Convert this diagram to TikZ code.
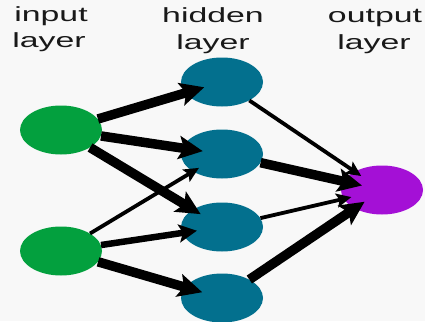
\documentclass[tikz,border=0pt]{standalone}
\usepackage{fontspec}
\usepackage{graphicx}
\setmainfont{Liberation Sans}
\usetikzlibrary{shapes.geometric,arrows.meta}
\definecolor{ingreen}{RGB}{3,160,62}
\definecolor{hidteal}{RGB}{3,112,142}
\definecolor{outpurple}{RGB}{164,16,214}
\definecolor{bgpaper}{RGB}{248,248,248}
\newcommand{\stretchtxt}[1]{\scalebox{1.65}[1]{#1}}
\tikzset{
  neuron/.style={ellipse, minimum width=82pt, minimum height=49pt, inner sep=0pt, draw=none},
  lbl/.style={font=\fontsize{20.5pt}{24pt}\selectfont, anchor=base, inner sep=0pt, text=black!90},
  thickarr/.style={line width=9.5pt, -{Stealth[length=24pt,width=23pt,inset=5pt]}},
  medarr/.style={line width=6.5pt, -{Stealth[length=18pt,width=18pt,inset=4pt]}},
  thinarr/.style={line width=3.8pt, -{Stealth[length=15pt,width=14pt,inset=3pt]}}
}
\begin{document}
\begin{tikzpicture}[x=1pt,y=-1pt]
\useasboundingbox (0,0) rectangle (425,321);
\fill[bgpaper] (0,0) rectangle (425,321);
\begin{scope}
\clip (0,0) rectangle (425,321);
% labels
\node[lbl] (inA) at (51,21.5) {\stretchtxt{input}};
\node[lbl] (inB) at (49,48) {\stretchtxt{layer}};
\node[lbl] (hidA) at (213,22.5) {\stretchtxt{hidden}};
\node[lbl] (hidB) at (213,49) {\stretchtxt{layer}};
\node[lbl] (outA) at (375,22.5) {\stretchtxt{output}};
\node[lbl] (outB) at (374,49.5) {\stretchtxt{layer}};
% neurons
\node[neuron, fill=ingreen] (I1) at (61,130) {};
\node[neuron, fill=ingreen] (I2) at (61,251) {};
\node[neuron, fill=hidteal] (H1) at (222,82) {};
\node[neuron, fill=hidteal] (H2) at (222,154) {};
\node[neuron, fill=hidteal] (H3) at (222,227) {};
\node[neuron, fill=hidteal] (H4) at (222,298) {};
\node[neuron, fill=outpurple] (O) at (382,190) {};
% connections
\draw[thickarr, shorten >=-20pt] (I1) -- (H1);
\draw[thickarr, shorten >=-21pt] (I1) -- (H2);
\draw[thickarr, shorten >=-9pt] (I1) -- (H3);
\draw[thinarr, shorten >=-7pt] (I2) -- (H2);
\draw[medarr, shorten >=-15pt] (I2) -- (H3);
\draw[thickarr, shorten >=-18pt] (I2) -- (H4);
\draw[thinarr, shorten >=-8pt] (H1) -- (O);
\draw[thickarr, shorten >=-19pt] (H2) -- (O);
\draw[thinarr, shorten >=-8pt] (H3) -- (O);
\draw[thickarr, shorten >=-12pt] (H4) -- (O);
\end{scope}
\end{tikzpicture}
\end{document}
